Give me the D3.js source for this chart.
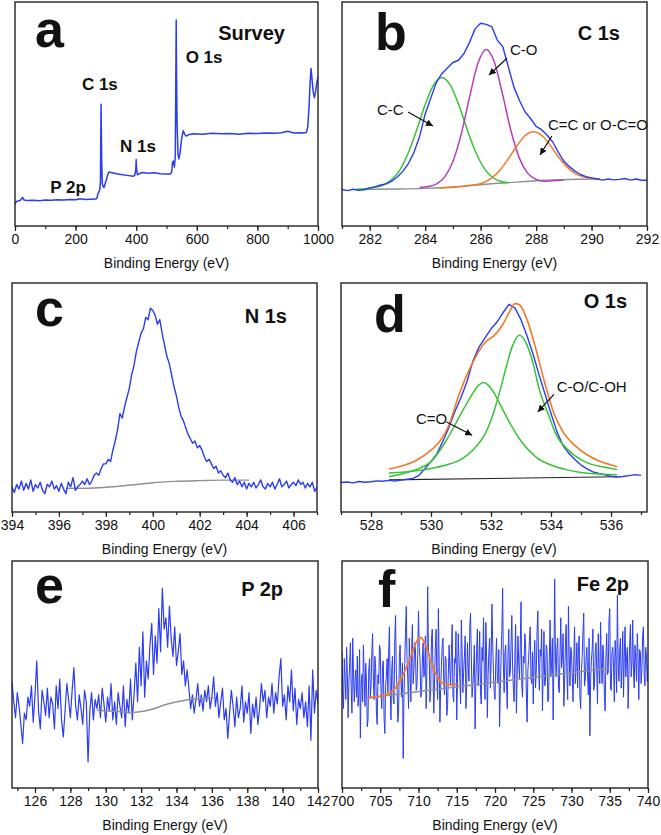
<!DOCTYPE html>
<html><head><meta charset="utf-8">
<script src="https://cdn.jsdelivr.net/npm/d3@7"></script>
<style>body{margin:0;background:#fff}svg{display:block;font-family:"Liberation Sans",Arial,sans-serif}</style>
</head><body><svg id="chart" width="661" height="835"></svg>
<script>
// ---------------- DATA ----------------
// (a) survey: [binding energy, intensity a.u.]
const surveyData = [[0,9.8],[5,11.0],[10,11.2],[18,11.5],[25,12.8],[30,11.6],[40,11.4],[60,11.5],[80,11.3],[100,11.6],
[120,11.5],[140,11.7],[160,11.6],[180,11.8],[200,11.7],[215,12.2],[230,11.8],[250,11.9],[265,12.0],[270,12.3],
[274,14.5],[277,15.2],[280,16.5],[282,20],[284,54.4],[286,30],[288,19],[291,17.5],[294,17.2],[300,20],
[305,22.5],[310,24.1],[320,23.8],[335,23.3],[350,23],[370,22.6],[390,22.2],[396,22.8],[399,26],[400,29.7],
[401,26],[404,22.9],[410,23.3],[420,23.9],[440,23.5],[460,23.8],[480,23.3],[500,23.2],[512,23.2],[517,24],
[520,28.5],[523,29],[526,26.3],[529,31],[531,70],[532,92],[533,70],[535,45],[538,32],[541,30],
[545,33],[550,39],[555,42.5],[560,41],[565,40.2],[575,40.8],[590,41.2],[620,41.0],[650,41.4],[680,41.2],
[710,41.3],[740,41.0],[770,41.4],[800,41.3],[830,41.5],[860,41.4],[880,41.6],[900,42.3],[920,41.5],[940,41.6],
[955,41.5],[962,41.8],[966,44],[970,52],[974,64],[977,70.3],[980,66],[984,60],[988,57.3],[992,60],[996,64],[1000,66.6]];

// (b) C 1s, measured every 0.2 eV from 281.0
const cStart = 281.0, cStep = 0.2;
const c1sMeasured = [16.3,15.8,16.4,15.9,16.2, 17.0,17.6,18.3,18.8,20.0, 22.0,24.5,28.0,33.0,40.0,
 50.0,57.0,64.0,68.0,70.5, 73.0,74.0,77.0,82.0,88.0, 90.5,90.0,89.0,83.0,80.0, 71.0,62.0,56.0,51.0,48.0,
 44.5,43.0,40.5,37.5,33.0, 29.0,26.5,24.5,23.0,22.0, 21.5,21.0,20.5,21.0,20.6, 20.8,21.2,20.5,21.0,20.4, 20.4];
const c1sCC = [[281.5,16.3],[282.2,17.3],[282.5,18.4],[282.8,20.8],[283.1,25.3],[283.4,32.9],[283.7,43.1],[284.0,54.2],[284.3,62.9],[284.6,66.3],
 [284.9,63],[285.2,54.5],[285.5,43.6],[285.8,33.6],[286.1,26.3],[286.4,22],[286.7,20],[287.0,19.3]];
const c1sCO = [[283.8,17.2],[284.1,17.6],[284.4,18.7],[284.7,21.8],[285.0,28.8],[285.3,41],[285.6,57.5],[285.9,72.5],[286.2,78.8],
 [286.5,73],[286.8,58.3],[287.1,42.2],[287.4,30.2],[287.7,23.5],[288.0,20.8],[288.3,20],[288.6,20.2],[289.0,20.5]];
const c1sOCO = [[284.5,17],[285.0,17.3],[285.5,17.9],[285.8,18.4],[286.1,19.3],[286.4,21.5],[286.7,25],[287.0,30],[287.3,35.6],[287.6,40.3],[287.9,42.1],
 [288.2,40.5],[288.5,36.2],[288.8,31],[289.1,26.5],[289.4,23.5],[289.7,22],[290.0,21.3],[290.3,21]];
const c1sBase = [[281.5,16.3],[283,16.5],[284,16.8],[285,17.4],[285.6,18.1],[286.5,19],[287.3,19.6],[288,20.2],[288.6,20.6],[289.5,20.9],[290.3,21.0]];

// (c) N 1s, every 0.1 eV from 394.0
const nStart = 394.0, nStep = 0.1;
const n1sMeasured = [11,8.5,12,10,13.5,9.5,12.5,10,14,9, 12,10.5,13,9.5,8,12,11,13.5,10,11.5,
 9,12.5,10,8,13,11,15,9.5,11,12, 13.5,12,14.5,12,13.5,16,17,16,19,21, 21,23,22,27,31,36,43,41,46,50,
 54,60,64,70,74,78,80,85,84,89, 88,86,82,84,78,73,68,65,60,55, 51,46,42,40,37,34,32,30,31,28,
 29,27,24,22,23,21,19,20,17,18, 16,15,17,14,13,15,12,13.5,11,13, 10,12.5,11,13,10.5,12,14,11,10,12.5,
 11,13,10,12,14.5,11,12,13.5,10.5,12, 13,11.5,14,12,13,10.5,12.5,11,13,9, 11];
const n1sBase = [[396.3,10.3],[397.5,10.5],[398.5,11.2],[399.3,12],[400,12.8],[401,13.4],[402,13.7],[403,13.9],[404.1,13.9]];

// (d) O 1s, every 0.2 eV from 527.0
const oStart = 527.0, oStep = 0.2;
const o1sMeasured = [12.9,13.1,12.7,13.3,13.0, 13.2,13.6,13.4,13.8,13.5, 14.0,14.3,14.7,16.0,19.0,
 22.0,25.5,31.0,37.0,44.0, 50.0,57.0,66.0,72.0,76.0, 80.0,83.0,87.0,90.7,89.0, 84.0,77.0,69.0,60.0,51.5,
 43.0,35.0,29.0,25.5,22.8, 20.5,18.8,17.5,16.8,16.2, 15.6,15.3,15.5,15.9,16.3, 16.0];
const o1sEnvelope = [[528.6,18.8],[529,20],[529.5,22.5],[530,27],[530.3,31],[530.6,38],[530.9,50],[531.2,60],[531.5,68],[531.8,74],
 [532.1,77],[532.4,82],[532.6,87],[532.8,91],[532.95,90.5],[533.2,84],[533.5,71],[533.8,56],[534.1,43],[534.4,35],[534.8,29],[535.2,25],[535.7,21.8],[536.2,19.8]];
const o1sCdO = [[528.6,15.5],[529,16.5],[529.5,18.5],[530,22],[530.5,31],[530.8,38],[531,43],[531.2,47.5],[531.4,52],[531.6,55.5],[531.75,56.6],
 [531.9,55.5],[532.1,52],[532.3,47],[532.5,42],[532.8,35],[533,31],[533.5,24],[534,20.5],[534.5,18.5],[535,17.3],[535.5,16.7],[536.2,16.3]];
const o1sCOH = [[528.6,17],[529.5,18],[530,19],[530.5,20.5],[531,23],[531.5,28.5],[531.8,34],[532.1,44],[532.3,53],[532.5,63],[532.7,72],[532.95,77.2],
 [533.2,73],[533.4,65],[533.6,54],[533.9,43],[534.2,33],[534.5,28],[534.8,24.5],[535.3,21],[535.8,19.5],[536.2,18.5]];
const o1sBase = [[528.6,14.0],[536.2,15.4]];

// (e) P 2p, every 0.1 eV from 124.7
const pStart = 124.7, pStep = 0.1;
const p2pMeasured = [47,38,31,42,36,28,19.6,33,30,40, 36,45,29,41,56,34,26,43,38,32, 44,31,40,37,26,45,35,48,30,22.5,
 34,46,39,31,43,53,36,30,41,35, 28,43,38,11.5,34,42,30,39,35,41, 31,44,37,29,40,34,46,30,38,28,
 42,36,31,45,27,39,33,48,30,41, 55,38,62,45,68.8,40,56,48,63,72.5, 50,67,55,79,60,88,70,75,62,80,
 66,58,71,54,60,68,50,56,45,52, 44,35,41,33,39,46,36,41,34,43, 38,45,35,40,49,36,42,31,38,44,
 30,35,21.8,33,43,36,27,40,31,35, 45,29,38,33,42,24,37,31,40,28, 35,46,38,43,31,40,36,46,33,42,
 37,49,57,36,41,30,45,38,52,34, 44,28,39,35,42,31,38,27,45,21, 52,33,43,37];
const p2pBase = [[129.5,34.3],[130.5,33.8],[131.5,33.3],[132.5,34.5],[133.5,37],[134.5,38.7],[135.3,39.3],[136.1,39.7]];

// (f) Fe 2p, every 0.1 eV from 700.0
const feStart = 700.0, feStep = 0.1;
const fe2pMeasured = [
 60,42,35,57,48,39,62,50,31,46,55,64,44,33,66,51,38,47,52,40,
 58,36,41,61,22,45,50,38,63,49,36,55,47,27,30,52,57,40,45,60,
 68,47,39,58,53,33,28,50,46,63,61,42,35,54,56,31,24,45,49,57,
 42,60,71,44,30,52,58,39,37,66,76,50,44,29,34,58,63,47,40,55,
 13,40,55,68,80,57,48,35,66,52,38,61,72,46,52,64,61,43,45,59,
 78,62,57,40,42,55,64,49,50,67,35,53,88.7,60,59,38,44,66,70,51,
 33,48,62,70,48,39,79,56,29,44,54,63,66,47,41,58,57,32,36,50,
 63,52,45,60,72,41,38,57,55,69,30,48,68,56,49,37,74,60,42,51,
 58,67,35,46,64,53,47,71,77,59,40,45,52,63,26,48,61,70,45,54,
 69,43,37,62,56,75,48,39,73,58,31,50,60,66,44,57,81,64,50,42,
 39,55,66,48,46,61,27,44,58,70,88,53,42,60,63,47,35,59,70,49,
 51,64,76,53,44,38,59,72,33,50,67,56,48,62,82,45,40,58,55,68,
 63,41,29,52,57,65,71,48,46,60,37,56,65,44,52,69,78,55,43,61,
 58,70,34,51,69,45,47,63,61,38,39,57,74,49,55,66,30,54,92,58,
 49,62,66,44,42,59,75,53,57,68,36,47,63,72,50,39,80,58,45,62,
 60,49,38,56,71,46,53,64,44,60,67,40,35,52,58,69,77,45,48,57,
 62,50,41,66,23,48,56,61,70,43,45,59,64,52,37,68,52,46,73,55,
 46,63,59,40,34,57,68,50,51,74,79,44,43,60,62,53,38,65,57,42,
 85,56,47,61,66,44,53,69,40,58,71,49,58,62,35,50,63,72,49,55,
 74,52,44,63,56,47,68,58,39,61,60,46,52,67,71,50,45,62,58,47,
 54];
const fe2pFit = [[703.4,39.7],[705,40.5],[706,41.5],[707,44],[708,50],[709,58],[709.6,63.5],[710.2,66.3],[710.8,64],[711.5,57],[712.3,50],[713,46.5],[714,45.5],[715,45.8]];
const fe2pBase = [[703.3,39.7],[734.9,52.9]];

// tick labels
const ticksA = [0,200,400,600,800,1000];
const ticksB = [282,284,286,288,290,292];
const ticksC = [394,396,398,400,402,404,406];
const ticksD = [528,530,532,534,536];
const ticksE = [126,128,130,132,134,136,138,140,142];
const ticksF = [700,705,710,715,720,725,730,735,740];

// ---------------- DRAW ----------------
const BLUE="#2b3cf2", GREEN="#38c238", MAGENTA="#b23fb6", ORANGE="#f27a26", GRAY="#8d9196", BLACK="#222";
const svg = d3.select("#chart");
svg.append("rect").attr("width",661).attr("height",835).attr("fill","#fff");
const defs = svg.append("defs");
defs.append("marker").attr("id","arr").attr("viewBox","0 0 10 10").attr("refX",10).attr("refY",5)
  .attr("markerWidth",7).attr("markerHeight",7).attr("markerUnits","userSpaceOnUse").attr("orient","auto")
  .append("path").attr("d","M0,0L10,5L0,10z").attr("fill","#111");

const regular = (start, step, vals) => vals.map((v,i)=>[start+step*i, v]);

let clipId = 0;
function panel(cfg){
  const f = cfg.frame;
  const x = d3.scaleLinear().domain(cfg.domain).range([f.x0,f.x1]);
  const y = d3.scaleLinear().domain([0,100]).range([f.y1,f.y0]);
  const g = svg.append("g");
  const id = "clip"+(clipId++);
  defs.append("clipPath").attr("id",id).append("rect").attr("x",f.x0).attr("y",f.y0).attr("width",f.x1-f.x0).attr("height",f.y1-f.y0);
  g.append("g").attr("transform",`translate(0,${f.y1})`)
    .call(d3.axisBottom(x).tickValues(cfg.minor).tickSize(3).tickFormat(""))
    .call(s=>{s.select(".domain").remove(); s.selectAll("line").attr("stroke",BLACK).attr("stroke-width",1.2);});
  g.append("g").attr("transform",`translate(0,${f.y1})`)
    .call(d3.axisBottom(x).tickValues(cfg.ticks).tickSize(5).tickPadding(3).tickFormat(d3.format("d")))
    .call(s=>{s.select(".domain").remove(); s.selectAll("line").attr("stroke",BLACK).attr("stroke-width",1.2);
      s.selectAll("text").attr("font-size",14).attr("fill","#111").attr("font-family",'"Liberation Sans",Arial,sans-serif');});
  g.append("text").attr("x",(f.x0+f.x1)/2).attr("y",f.y1+42).attr("text-anchor","middle")
    .attr("font-size",14).attr("fill","#111").text("Binding Energy (eV)");
  const line = d3.line().x(d=>x(d[0])).y(d=>y(d[1]));
  const plot = g.append("g").attr("clip-path",`url(#${id})`);
  cfg.series.forEach(s=>{
    plot.append("path").datum(s.data).attr("fill","none").attr("stroke",s.color)
      .attr("stroke-width",s.w||1.4).attr("stroke-linejoin","round")
      .attr("d", line.curve(s.smooth?d3.curveMonotoneX:d3.curveLinear)(s.data));
  });
  g.append("rect").attr("x",f.x0).attr("y",f.y0).attr("width",f.x1-f.x0).attr("height",f.y1-f.y0)
    .attr("fill","none").attr("stroke",BLACK).attr("stroke-width",1.4);
  g.append("text").attr("x",f.x0+cfg.letter.dx).attr("y",cfg.letter.y).attr("font-size",52).attr("font-weight","bold")
    .attr("fill","#111").text(cfg.letter.t);
  g.append("text").attr("x",f.x1-cfg.title.dr).attr("y",cfg.title.y).attr("text-anchor","end").attr("font-size",20)
    .attr("font-weight","bold").attr("fill","#111").text(cfg.title.t);
  (cfg.labels||[]).forEach(l=>{
    g.append("text").attr("x",x(l.x)).attr("y",y(l.y)).attr("text-anchor",l.anchor||"start")
      .attr("font-size",l.size||15).attr("font-weight",l.bold?"bold":"normal").attr("fill","#111").text(l.t);
  });
  (cfg.arrows||[]).forEach(a=>{
    g.append("line").attr("x1",x(a[0])).attr("y1",y(a[1])).attr("x2",x(a[2])).attr("y2",y(a[3]))
      .attr("stroke","#111").attr("stroke-width",1.2).attr("marker-end","url(#arr)");
  });
}

panel({frame:{x0:15,x1:318,y0:2,y1:226}, domain:[0,1000], ticks:ticksA, minor:d3.range(0,1001,100),
  letter:{t:"a",dx:20,y:47}, title:{t:"Survey",dr:33,y:40},
  series:[{data:surveyData,color:BLUE,w:1.5}],
  labels:[{t:"C 1s",x:280,y:60.7,anchor:"middle",size:17,bold:true},{t:"N 1s",x:406,y:33,anchor:"middle",size:17,bold:true},
          {t:"O 1s",x:624,y:72.8,anchor:"middle",size:17,bold:true},{t:"P 2p",x:175,y:14.7,anchor:"middle",size:17,bold:true}]});

panel({frame:{x0:342,x1:647,y0:2,y1:226}, domain:[281,292], ticks:ticksB, minor:d3.range(281,292.1,1),
  letter:{t:"b",dx:33,y:50}, title:{t:"C 1s",dr:27,y:40},
  series:[{data:c1sBase,color:GRAY,w:1.4,smooth:true},{data:c1sCC,color:GREEN,w:1.5,smooth:true},
          {data:c1sCO,color:MAGENTA,w:1.5,smooth:true},{data:c1sOCO,color:ORANGE,w:1.5,smooth:true},
          {data:regular(cStart,cStep,c1sMeasured),color:BLUE,w:1.4}],
  labels:[{t:"C-C",x:282.26,y:49.6},{t:"C-O",x:287.06,y:76.3},{t:"C=C or O-C=O",x:288.43,y:42.9}],
  arrows:[[283.38,50.9,284.28,44.6],[286.95,74.9,286.3,67.4],[288.57,40.2,288.14,31.7]]});

panel({frame:{x0:12,x1:317,y0:283,y1:512}, domain:[394,407], ticks:ticksC, minor:d3.range(394,407.1,1),
  letter:{t:"c",dx:23,y:326}, title:{t:"N 1s",dr:30,y:323},
  series:[{data:n1sBase,color:GRAY,w:1.4,smooth:true},{data:regular(nStart,nStep,n1sMeasured),color:BLUE,w:1.4}]});

panel({frame:{x0:341,x1:647,y0:283,y1:512}, domain:[527,537.2], ticks:ticksD, minor:d3.range(527,537.1,1),
  letter:{t:"d",dx:33,y:332}, title:{t:"O 1s",dr:20,y:308},
  series:[{data:o1sBase,color:"#222",w:1.2},{data:regular(oStart,oStep,o1sMeasured),color:BLUE,w:1.4},
          {data:o1sCdO,color:GREEN,w:1.5,smooth:true},{data:o1sCOH,color:GREEN,w:1.5,smooth:true},
          {data:o1sEnvelope,color:ORANGE,w:1.6,smooth:true}],
  labels:[{t:"C=O",x:529.5,y:38.4},{t:"C-O/C-OH",x:534.19,y:52.4}],
  arrows:[[530.52,39.3,531.37,33.5],[534.1,51.4,533.56,43.7]]});

panel({frame:{x0:12,x1:318,y0:561,y1:788}, domain:[124.7,142], ticks:ticksE, minor:d3.range(125,142.1,1),
  letter:{t:"e",dx:23,y:603}, title:{t:"P 2p",dr:35,y:596},
  series:[{data:regular(pStart,pStep,p2pMeasured),color:BLUE,w:1.2},{data:p2pBase,color:GRAY,w:1.5,smooth:true}]});

panel({frame:{x0:342,x1:648,y0:561,y1:788}, domain:[700,740], ticks:ticksF, minor:d3.range(700,740.1,2.5),
  letter:{t:"f",dx:36,y:607}, title:{t:"Fe 2p",dr:19,y:591},
  series:[{data:regular(feStart,feStep,fe2pMeasured),color:BLUE,w:1.0},{data:fe2pBase,color:GRAY,w:1.5},
          {data:fe2pFit,color:ORANGE,w:1.8,smooth:true}]});
</script></body></html>
